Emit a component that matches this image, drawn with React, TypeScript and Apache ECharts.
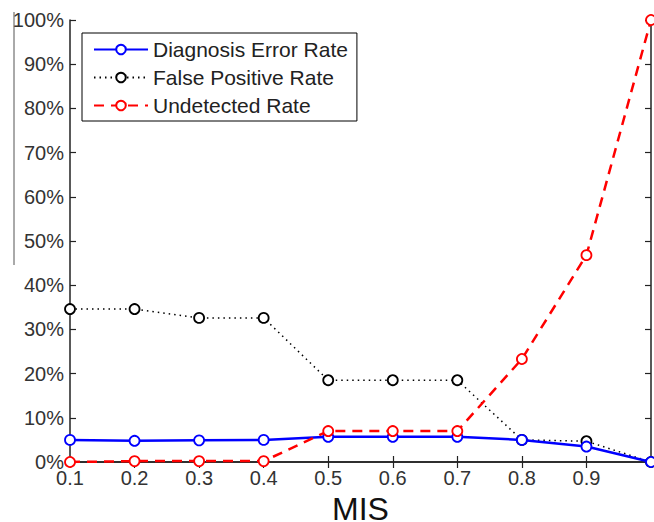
import React, { useEffect, useRef } from "react";
import * as echarts from "echarts";

const categories = ["0.1", "0.2", "0.3", "0.4", "0.5", "0.6", "0.7", "0.8", "0.9", "1.0"];
const diagnosisError = [5.0, 4.8, 4.9, 5.0, 5.7, 5.7, 5.7, 5.0, 3.5, 0];
const falsePositive = [34.6, 34.6, 32.6, 32.6, 18.5, 18.5, 18.5, 5.0, 4.7, 0];
const undetected = [0, 0.2, 0.2, 0.2, 7.0, 7.0, 7.0, 23.3, 46.8, 100];

const FONT = "Liberation Sans, Arial, sans-serif";

export default function App() {
  const ref = useRef<HTMLDivElement>(null);
  useEffect(() => {
    if (!ref.current) return;
    const chart = echarts.init(ref.current, undefined, { renderer: "svg" });
    const symbolStyle = (c: string) => ({ color: "#fff", borderColor: c, borderWidth: 1.8 });
    chart.setOption({
      animation: false,
      backgroundColor: "#fff",
      grid: { left: 70, right: 3, top: 20, bottom: 60, containLabel: false, outerBoundsMode: "none" },
      legend: {
        orient: "vertical",
        left: 82,
        top: 33,
        itemWidth: 54,
        itemHeight: 12,
        itemGap: 7,
        borderColor: "#000",
        borderWidth: 1,
        borderRadius: 0,
        padding: [6, 9, 5, 11],
        textStyle: { fontFamily: FONT, fontSize: 21, color: "#222" },
        data: ["Diagnosis Error Rate", "False Positive Rate", "Undetected Rate"],
      },
      xAxis: [
        {
          type: "category",
          data: categories,
          boundaryGap: false,
          name: "MIS",
          nameLocation: "middle",
          nameGap: 27,
          nameTextStyle: { fontFamily: FONT, fontSize: 32, color: "#111", lineHeight: 32 },
          axisLine: { lineStyle: { color: "#222", width: 1.5 } },
          axisTick: { inside: true, length: 6, lineStyle: { color: "#222", width: 1.2 } },
          axisLabel: {
            fontFamily: FONT,
            fontSize: 20,
            color: "#333",
            margin: 6,
            formatter: (v: string) => (v === "1.0" ? "" : v),
          },
          splitLine: { show: false },
        },
        {
          type: "category",
          data: categories,
          boundaryGap: false,
          position: "top",
          axisLine: { lineStyle: { color: "#222", width: 1.5 } },
          axisTick: { inside: true, length: 6, lineStyle: { color: "#222", width: 1.2 } },
          axisLabel: { show: false },
          splitLine: { show: false },
        },
      ],
      yAxis: [
        {
          type: "value",
          min: 0,
          max: 100,
          interval: 10,
          axisLine: { show: true, lineStyle: { color: "#222", width: 1.5 } },
          axisTick: { show: true, inside: true, length: 6, lineStyle: { color: "#222", width: 1.2 } },
          axisLabel: { fontFamily: FONT, fontSize: 20, color: "#333", margin: 6, formatter: "{value}%" },
          splitLine: { show: false },
        },
        {
          type: "value",
          min: 0,
          max: 100,
          interval: 10,
          position: "right",
          axisLine: { show: true, lineStyle: { color: "#222", width: 1.5 } },
          axisTick: { show: true, inside: true, length: 6, lineStyle: { color: "#222", width: 1.2 } },
          axisLabel: { show: false },
          splitLine: { show: false },
        },
      ],
      series: [
        {
          name: "Diagnosis Error Rate",
          type: "line",
          data: diagnosisError,
          symbol: "circle",
          symbolSize: 10,
          itemStyle: symbolStyle("#0000ff"),
          lineStyle: { color: "#0000ff", width: 2.5, type: "solid" },
          z: 3,
        },
        {
          name: "False Positive Rate",
          type: "line",
          data: falsePositive,
          symbol: "circle",
          symbolSize: 10,
          itemStyle: symbolStyle("#000"),
          lineStyle: { color: "#000", width: 1.5, type: [1.5, 4] },
          z: 2,
        },
        {
          name: "Undetected Rate",
          type: "line",
          data: undetected,
          symbol: "circle",
          symbolSize: 10,
          itemStyle: symbolStyle("#ff0000"),
          lineStyle: { color: "#ff0000", width: 2.5, type: [10, 7] },
          z: 4,
        },
      ],
      graphic: [
        {
          type: "line",
          shape: { x1: 14, y1: 12, x2: 14, y2: 265 },
          style: { stroke: "#555", lineWidth: 1 },
        },
      ],
    });
    return () => chart.dispose();
  }, []);
  return <div ref={ref} style={{ width: 654, height: 522, position: "absolute", left: 0, top: 0 }} />;
}
